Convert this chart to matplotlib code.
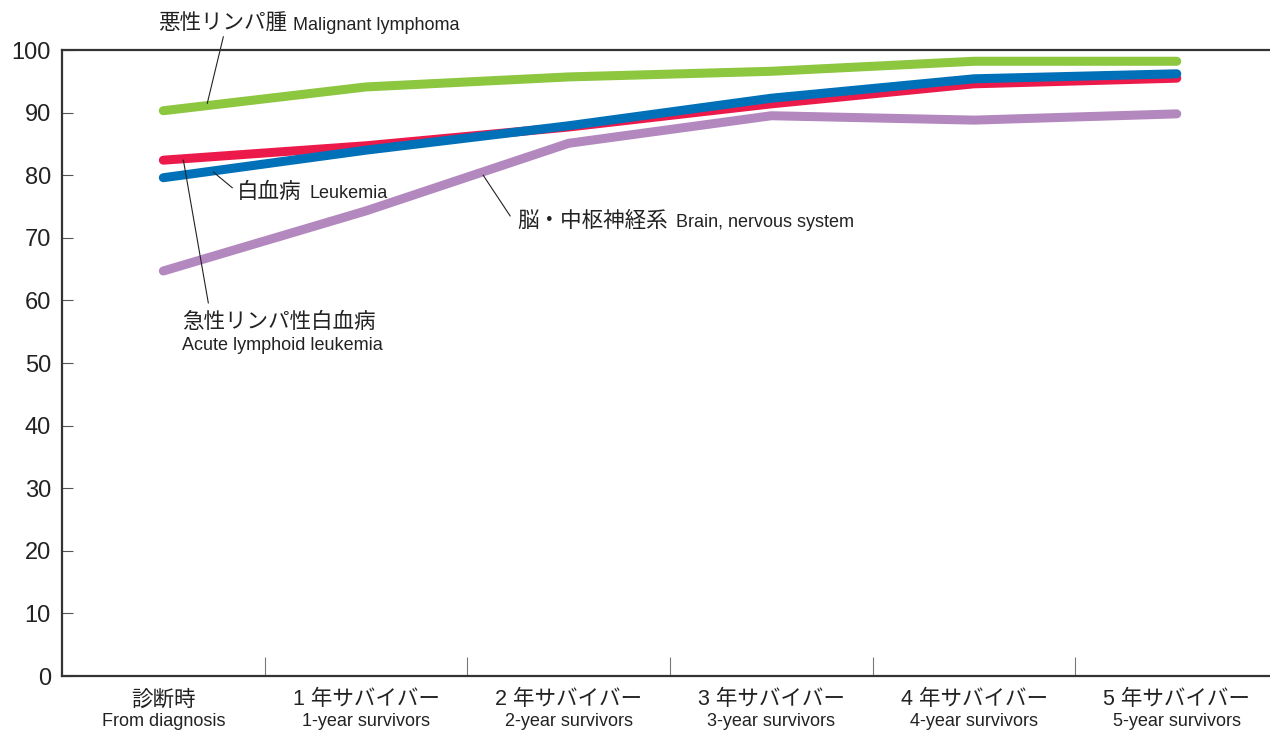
import numpy as np
import matplotlib.pyplot as plt

plt.rcParams['font.family'] = ['Liberation Sans', 'Noto Sans CJK JP']

cat_jp = ['診断時', '1 年サバイバー', '2 年サバイバー', '3 年サバイバー', '4 年サバイバー', '5 年サバイバー']
cat_en = ['From diagnosis', '1-year survivors', '2-year survivors', '3-year survivors',
          '4-year survivors', '5-year survivors']

lymphoma = [90.3, 94.1, 95.7, 96.6, 98.2, 98.2]
all_leuk = [82.4, 84.7, 87.7, 91.4, 94.6, 95.5]
leukemia = [79.6, 84.0, 87.9, 92.3, 95.4, 96.2]
brain = [64.7, 74.3, 85.1, 89.5, 88.8, 89.8]

x = np.arange(len(cat_jp))

fig = plt.figure(figsize=(12.7, 7.31), dpi=100)
ax = fig.add_axes([0.0488, 0.0752, 0.9512, 0.8564])

lw = 6.5
ax.plot(x, lymphoma, color='#8dc63f', lw=lw, solid_capstyle='round', solid_joinstyle='round')
ax.plot(x, brain, color='#b388bf', lw=lw, solid_capstyle='round', solid_joinstyle='round')
ax.plot(x, all_leuk, color='#ec1a4b', lw=lw, solid_capstyle='round', solid_joinstyle='round')
ax.plot(x, leukemia, color='#0071b9', lw=lw, solid_capstyle='round', solid_joinstyle='round')

ax.set_xlim(-0.5, 5.46)
ax.set_ylim(0, 100)

for s in ['left', 'bottom', 'top']:
    ax.spines[s].set_color('#333333')
    ax.spines[s].set_linewidth(1.6)
ax.spines['right'].set_visible(False)

ax.set_yticks(np.arange(0, 101, 10))
ax.tick_params(axis='y', direction='in', length=8, width=0.8, colors='#555555',
               labelcolor='#222222', labelsize=17, pad=8)
ax.set_xticks(x[:-1] + 0.5)
ax.set_xticklabels([])
ax.tick_params(axis='x', direction='in', length=14, width=0.8, colors='#777777')

trans = ax.get_xaxis_transform()
for i in x:
    ax.text(i, -0.038, cat_jp[i], transform=trans, ha='center', va='center', fontsize=15.5,
            color='#222222')
    ax.text(i, -0.073, cat_en[i], transform=trans, ha='center', va='center', fontsize=13,
            color='#222222')

# labels with leader lines
kw = dict(color='#222222', va='baseline', clip_on=False)
ax.text(-0.025, 103.2, '悪性リンパ腫', fontsize=15.5, **kw)
ax.text(0.64, 103.2, 'Malignant lymphoma', fontsize=13, **kw)
ax.plot([0.217, 0.296], [91.5, 102.1], color='#222222', lw=0.8, clip_on=False)

ax.text(0.365, 76.4, '白血病', fontsize=15.5, **kw)
ax.text(0.72, 76.4, 'Leukemia', fontsize=13, **kw)
ax.plot([0.247, 0.340], [80.5, 78.0], color='#222222', lw=0.8)

ax.text(0.094, 55.6, '急性リンパ性白血病', fontsize=15.5, **kw)
ax.text(0.094, 52.1, 'Acute lymphoid leukemia', fontsize=13, **kw)
ax.plot([0.099, 0.222], [82.4, 59.6], color='#222222', lw=0.8)

ax.text(1.746, 71.7, '脳・中枢神経系', fontsize=15.5, **kw)
ax.text(2.53, 71.7, 'Brain, nervous system', fontsize=13, **kw)
ax.plot([1.578, 1.711], [80.0, 73.5], color='#222222', lw=0.8)

fig.savefig('out.png', dpi=100)
